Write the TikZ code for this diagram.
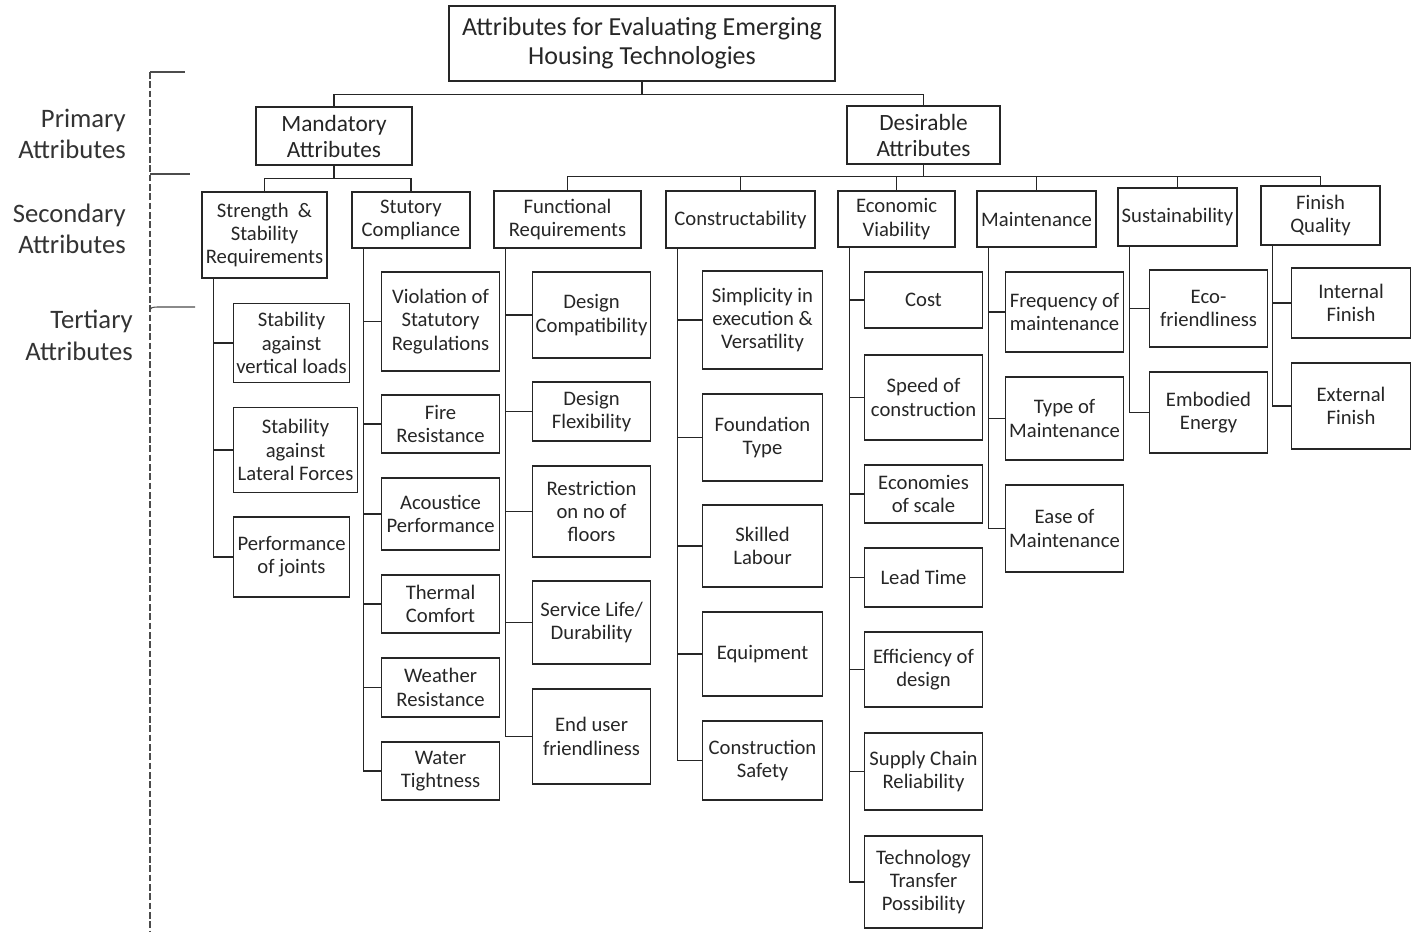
\documentclass[tikz,border=0pt]{standalone}
\usepackage{fontspec}
\setmainfont{Carlito}
\usepackage{xcolor}
\newcommand{\rootfont}{\fontsize{19.5}{22}\selectfont}
\newcommand{\primfont}{\fontsize{17.5}{19.5}\selectfont}
\newcommand{\boxfont}{\fontsize{15.5}{17.5}\selectfont}
\newcommand{\lvlfont}{\fontsize{20}{23.5}\selectfont}
\tikzset{
  attr/.style={draw=black!85, line width=0.8pt, align=center, inner sep=1pt, font=\boxfont, text=black!85},
  sz/.style 2 args={minimum width=#1*0.75pt, minimum height=#2*0.75pt},
  link/.style={draw=black!85, line width=0.8pt},
  lvl/.style={align=right, anchor=east, inner sep=0pt, font=\lvlfont, text=black!80},
  brace/.style={draw=black!70, line width=0.8pt}
}

\begin{document}
\begin{tikzpicture}[x=0.75pt,y=0.75pt,yscale=-1,xscale=1]
\path (0,0) rectangle (1417,932); %page size

%Shape: Rectangle - root and primary
\node[attr, font=\rootfont, sz={386}{75}] (root) at (642,43.5) {Attributes for Evaluating Emerging\\Housing Technologies};
\node[attr, font=\primfont, sz={156}{58}] (mand) at (334,136) {Mandatory\\Attributes};
\node[attr, font=\primfont, sz={153}{58}] (des) at (923.5,135) {Desirable\\Attributes};

%Shape: Rectangle - secondary
\node[attr, sz={125}{86}] (strength) at (264.5,235) {Strength \ \&\\Stability\\Requirements};
\node[attr, sz={118}{56}] (stut) at (411,220) {Stutory\\Compliance};
\node[attr, sz={147}{57}] (func) at (567.5,219.5) {Functional\\Requirements};
\node[attr, sz={149}{57}] (cons) at (740.5,219.5) {Constructability};
\node[attr, sz={117}{56}] (econ) at (896.5,219) {Economic\\Viability};
\node[attr, sz={119}{56}] (maint) at (1036.5,219) {Maintenance};
\node[attr, sz={119}{58}] (sust) at (1177.5,217) {Sustainability};
\node[attr, sz={119}{59}] (fin) at (1320.5,215.5) {Finish\\Quality};

%Shape: Rectangle - tertiary, strength
\node[attr, sz={116}{79}, anchor=west] (sv) at (233,343) {Stability\\against\\vertical loads};
\node[attr, sz={124}{85}, anchor=west] (sl) at (233,450) {Stability\\against\\Lateral Forces};
\node[attr, sz={116}{80}, anchor=west] (sj) at (233,557) {Performance\\of joints};

%Shape: Rectangle - tertiary, statutory
\node[attr, sz={118}{99}, anchor=west] (viol) at (381,321.5) {Violation of\\Statutory\\Regulations};
\node[attr, sz={118}{58}, anchor=west] (fire) at (381,424) {Fire\\Resistance};
\node[attr, sz={118}{72}, anchor=west] (acou) at (381,514) {Acoustice\\Performance};
\node[attr, sz={118}{58}, anchor=west] (therm) at (381,604) {Thermal\\Comfort};
\node[attr, sz={118}{59}, anchor=west] (weat) at (381,687.5) {Weather\\Resistance};
\node[attr, sz={118}{58}, anchor=west] (water) at (381,771) {Water\\Tightness};

%Shape: Rectangle - tertiary, functional
\node[attr, sz={118}{86}, anchor=west] (dcomp) at (532,315) {Design\\Compatibility};
\node[attr, sz={118}{59}, anchor=west] (dflex) at (532,411.5) {Design\\Flexibility};
\node[attr, sz={118}{91}, anchor=west] (restr) at (532,511.5) {Restriction\\on no of\\floors};
\node[attr, sz={118}{83}, anchor=west] (serv) at (532,622.5) {Service Life/\\Durability};
\node[attr, sz={118}{95}, anchor=west] (endu) at (532,736.5) {End user\\friendliness};

%Shape: Rectangle - tertiary, constructability
\node[attr, sz={120}{98}, anchor=west] (simp) at (702,320) {Simplicity in\\execution \&\\Versatility};
\node[attr, sz={120}{87}, anchor=west] (found) at (702,437.5) {Foundation\\Type};
\node[attr, sz={120}{82}, anchor=west] (skill) at (702,546) {Skilled\\Labour};
\node[attr, sz={120}{84}, anchor=west] (equip) at (702,654) {Equipment};
\node[attr, sz={120}{79}, anchor=west] (csafe) at (702,760.5) {Construction\\Safety};

%Shape: Rectangle - tertiary, economic
\node[attr, sz={118}{56}, anchor=west] (cost) at (864,300) {Cost};
\node[attr, sz={118}{85}, anchor=west] (speed) at (864,397.5) {Speed of\\construction};
\node[attr, sz={118}{58}, anchor=west] (scale) at (864,494) {Economies\\of scale};
\node[attr, sz={118}{59}, anchor=west] (lead) at (864,577.5) {Lead Time};
\node[attr, sz={118}{75}, anchor=west] (effic) at (864,669.5) {Efficiency of\\design};
\node[attr, sz={118}{77}, anchor=west] (supply) at (864,771.5) {Supply Chain\\Reliability};
\node[attr, sz={118}{92}, anchor=west] (tech) at (864,882) {Technology\\Transfer\\Possibility};

%Shape: Rectangle - tertiary, maintenance
\node[attr, sz={118}{80}, anchor=west] (freq) at (1005,312) {Frequency of\\maintenance};
\node[attr, sz={118}{83}, anchor=west] (typem) at (1005,418.5) {Type of\\Maintenance};
\node[attr, sz={118}{87}, anchor=west] (easem) at (1005,528.5) {Ease of\\Maintenance};

%Shape: Rectangle - tertiary, sustainability and finish
\node[attr, sz={118}{77}, anchor=west] (eco) at (1149,308.5) {Eco-\\friendliness};
\node[attr, sz={118}{81}, anchor=west] (embod) at (1149,412.5) {Embodied\\Energy};
\node[attr, sz={119}{70}, anchor=west] (intf) at (1291,303) {Internal\\Finish};
\node[attr, sz={119}{86}, anchor=west] (extf) at (1291,406) {External\\Finish};

%Straight Lines - tree
\draw[link] (root.south) -- ++(0,13) -| (mand.north) (root.south) ++(0,13) -| (des.north);
\foreach \c in {strength,stut}
  \draw[link] (mand.south) -- ++(0,13) -| (\c.north);
\foreach \c in {func,cons,econ,maint,sust,fin}
  \draw[link] (des.south) -- ++(0,12) -| (\c.north);

%Straight Lines - spines
\foreach \p/\c in {strength/sv,strength/sl,strength/sj,
    stut/viol,stut/fire,stut/acou,stut/therm,stut/weat,stut/water,
    func/dcomp,func/dflex,func/restr,func/serv,func/endu,
    cons/simp,cons/found,cons/skill,cons/equip,cons/csafe,
    econ/cost,econ/speed,econ/scale,econ/lead,econ/effic,econ/supply,econ/tech,
    maint/freq,maint/typem,maint/easem,
    sust/eco,sust/embod,fin/intf,fin/extf}
  \draw[link] ([xshift=9pt]\p.south west) |- (\c.west);

% Text Node - levels
\node[lvl] (prim) at (126,134) {Primary\\Attributes};
\node[lvl] (sec) at (126,228.5) {Secondary\\Attributes};
\node[lvl] (tert) at (133,335.5) {Tertiary\\Attributes};

%Straight Lines - level bracket
\draw[brace, dash pattern=on 5pt off 2pt] (150,72) -- (150,932);
\draw[brace] (150,72) -- (185,72);
\draw[brace] (150,174) -- (190,174);
\draw[brace] (150,312) .. controls (150,307) and (152,307) .. (160,307) -- (195,307);

\end{tikzpicture}
\end{document}
